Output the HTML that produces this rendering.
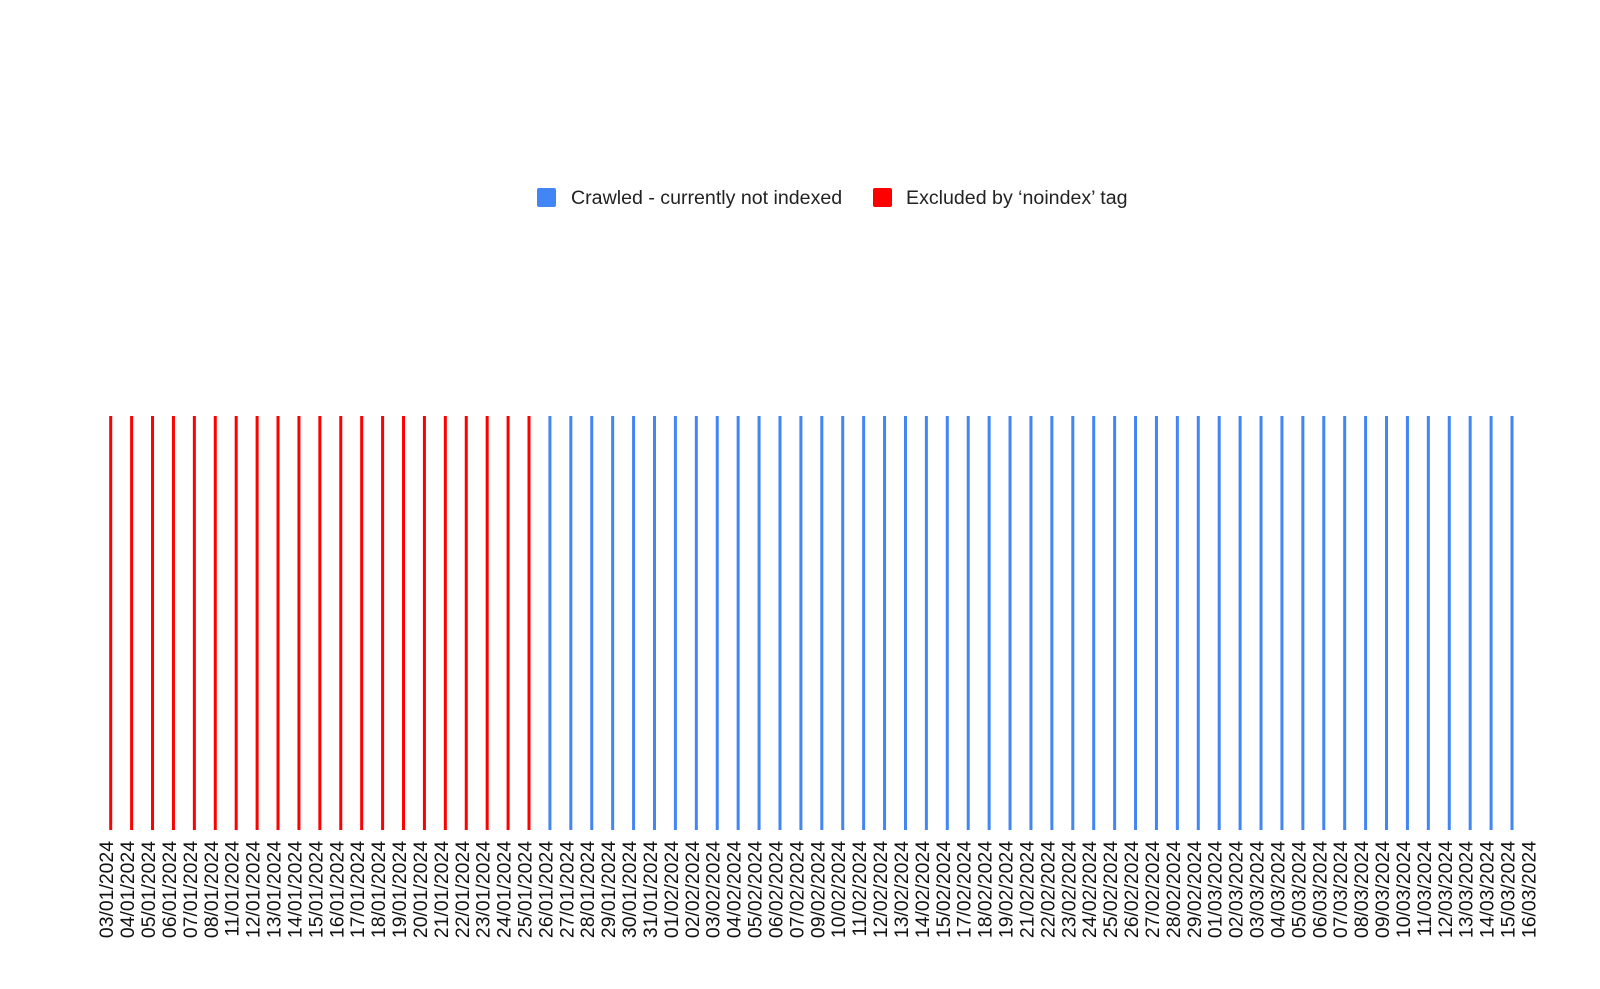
<!DOCTYPE html>
<html><head><meta charset="utf-8"><style>
html,body{margin:0;padding:0;background:#fff;}
svg{display:block;font-family:"Liberation Sans",Arial,sans-serif;}
</style></head><body>
<svg id="chart" width="1600" height="989" viewBox="0 0 1600 989" xmlns="http://www.w3.org/2000/svg">
<g>
  <g>
    <rect x="537" y="188" width="19" height="19" rx="2" fill="#4285f4"/>
    <text x="571" y="204" font-size="19.6" fill="#222">Crawled - currently not indexed</text>
  </g>
  <g>
    <rect x="873" y="188" width="19" height="19" rx="2" fill="#ff0000"/>
    <text x="906" y="204" font-size="19.6" fill="#222">Excluded by ‘noindex’ tag</text>
  </g>
</g>
<g id="bars"></g>
<g id="xlabels"></g>
</svg>
<script>
const categories = ["03/01/2024","04/01/2024","05/01/2024","06/01/2024","07/01/2024","08/01/2024","11/01/2024","12/01/2024","13/01/2024","14/01/2024","15/01/2024","16/01/2024","17/01/2024","18/01/2024","19/01/2024","20/01/2024","21/01/2024","22/01/2024","23/01/2024","24/01/2024","25/01/2024","26/01/2024","27/01/2024","28/01/2024","29/01/2024","30/01/2024","31/01/2024","01/02/2024","02/02/2024","03/02/2024","04/02/2024","05/02/2024","06/02/2024","07/02/2024","09/02/2024","10/02/2024","11/02/2024","12/02/2024","13/02/2024","14/02/2024","15/02/2024","17/02/2024","18/02/2024","19/02/2024","21/02/2024","22/02/2024","23/02/2024","24/02/2024","25/02/2024","26/02/2024","27/02/2024","28/02/2024","29/02/2024","01/03/2024","02/03/2024","03/03/2024","04/03/2024","05/03/2024","06/03/2024","07/03/2024","08/03/2024","09/03/2024","10/03/2024","11/03/2024","12/03/2024","13/03/2024","14/03/2024","15/03/2024","16/03/2024"];
const noindexValues = [1,1,1,1,1,1,1,1,1,1,1,1,1,1,1,1,1,1,1,1,1,0,0,0,0,0,0,0,0,0,0,0,0,0,0,0,0,0,0,0,0,0,0,0,0,0,0,0,0,0,0,0,0,0,0,0,0,0,0,0,0,0,0,0,0,0,0,0,0];
const crawledValues = [0,0,0,0,0,0,0,0,0,0,0,0,0,0,0,0,0,0,0,0,0,1,1,1,1,1,1,1,1,1,1,1,1,1,1,1,1,1,1,1,1,1,1,1,1,1,1,1,1,1,1,1,1,1,1,1,1,1,1,1,1,1,1,1,1,1,1,1,0];
const yMax = 1;

const NS = "http://www.w3.org/2000/svg";
const x0 = 110.7, step = (1512 - 110.7) / 67;
const yTop = 416, yBottom = 830;
function xScale(i){ return x0 + i * step; }
function yScale(v){ return yBottom - (v / yMax) * (yBottom - yTop); }

const bars = document.getElementById('bars');
const labels = document.getElementById('xlabels');
function addBar(i, v, color, series){
  if (v <= 0) return;
  const r = document.createElementNS(NS, 'rect');
  
  
  r.setAttribute('x', xScale(i) - 1.5);
  r.setAttribute('y', yScale(v));
  r.setAttribute('width', 3);
  r.setAttribute('height', yBottom - yScale(v));
  r.setAttribute('fill', color);
  bars.appendChild(r);
}
categories.forEach((c, i) => {
  addBar(i, noindexValues[i], '#ff0000', 'noindex');
  addBar(i, crawledValues[i], '#4285f4', 'crawled');
  const t = document.createElementNS(NS, 'text');
  
  
  const x = xScale(i) + 2.5;
  t.setAttribute('x', x);
  t.setAttribute('y', 841);
  t.setAttribute('transform', 'rotate(-90 ' + x + ' 841)');
  t.setAttribute('text-anchor', 'end');
  t.setAttribute('font-size', '19.4');
  t.setAttribute('fill', '#111');
  t.textContent = c;
  labels.appendChild(t);
});
</script>
</body></html>
